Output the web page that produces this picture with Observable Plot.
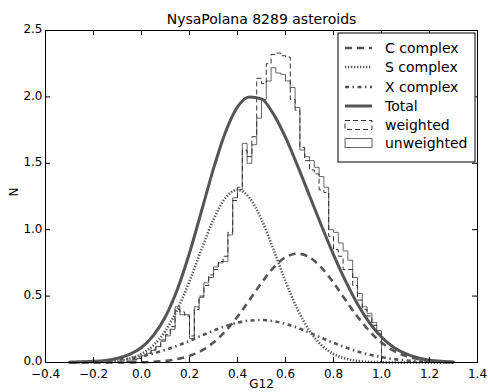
<!DOCTYPE html>
<html>
<head>
<meta charset="utf-8">
<script src="https://cdn.jsdelivr.net/npm/d3@7"></script>
<script src="https://cdn.jsdelivr.net/npm/@observablehq/plot@0.6"></script>
<style>
  html, body { margin: 0; padding: 0; background: #fff; }
  #chart { width: 488px; height: 392px; }
</style>
</head>
<body>
<div id="chart"></div>
<script>
// ---- Data ----
const title = "NysaPolana 8289 asteroids";
const xLabel = "G12";
const yLabel = "N";
const xTicks = [-0.4, -0.2, 0.0, 0.2, 0.4, 0.6, 0.8, 1.0, 1.2, 1.4];
const yTicks = [0.0, 0.5, 1.0, 1.5, 2.0, 2.5];

// histogram bin edges (G12)
const binEdges = [-0.06,-0.04,-0.02,0.00,0.02,0.04,0.06,0.08,0.10,0.12,0.14,0.16,0.18,0.20,0.22,0.24,0.26,0.28,0.30,0.32,0.34,0.36,0.38,0.40,0.42,0.44,0.46,0.48,0.50,0.52,0.54,0.56,0.58,0.60,0.62,0.64,0.66,0.68,0.70,0.72,0.74,0.76,0.78,0.80,0.82,0.84,0.86,0.88,0.90,0.92,0.94,0.96,0.98,1.00];
const unweighted = [0.01,0.02,0.03,0.05,0.07,0.09,0.12,0.16,0.20,0.25,0.42,0.36,0.36,0.18,0.42,0.49,0.60,0.64,0.72,0.75,0.76,0.96,1.24,1.30,1.65,1.50,1.64,1.84,1.98,2.12,2.22,2.18,2.17,2.12,2.07,1.92,1.60,1.55,1.52,1.47,1.40,1.32,1.00,0.98,0.90,0.84,0.77,0.64,0.52,0.42,0.37,0.30,0.24];
const weighted   = [0.01,0.02,0.03,0.05,0.07,0.10,0.12,0.17,0.21,0.27,0.40,0.38,0.35,0.20,0.40,0.50,0.58,0.66,0.70,0.76,0.80,0.98,1.22,1.32,1.60,1.55,1.70,2.14,2.10,2.25,2.32,2.33,2.31,2.30,1.98,1.90,1.62,1.52,1.45,1.42,1.30,1.28,0.95,0.85,0.80,0.70,0.70,0.58,0.47,0.40,0.35,0.28,0.22];

// model curves
const curveX = [-0.30,-0.25,-0.20,-0.15,-0.10,-0.05,0.00,0.05,0.10,0.15,0.20,0.25,0.30,0.35,0.40,0.45,0.50,0.55,0.60,0.65,0.70,0.75,0.80,0.85,0.90,0.95,1.00,1.05,1.10,1.15,1.20,1.25,1.30];
const cComplex = [0,0,0,0,0,0.001,0.002,0.006,0.012,0.026,0.050,0.089,0.150,0.236,0.345,0.471,0.600,0.714,0.792,0.820,0.792,0.714,0.600,0.471,0.345,0.236,0.150,0.089,0.050,0.026,0.012,0.006,0.002];
const sComplex = [0,0,0.002,0.004,0.012,0.029,0.064,0.130,0.239,0.401,0.612,0.851,1.077,1.240,1.300,1.240,1.077,0.851,0.612,0.401,0.239,0.130,0.064,0.029,0.012,0.004,0.002,0,0,0,0,0,0];
const xComplex = [0.002,0.004,0.007,0.012,0.020,0.031,0.047,0.068,0.095,0.127,0.163,0.202,0.240,0.274,0.300,0.316,0.320,0.311,0.291,0.261,0.225,0.186,0.148,0.114,0.083,0.059,0.040,0.026,0.016,0.010,0.006,0.003,0.002];
const total    = [0.002,0.005,0.009,0.016,0.032,0.061,0.113,0.204,0.346,0.554,0.825,1.140,1.460,1.735,1.925,2.000,1.985,1.870,1.695,1.482,1.256,1.030,0.812,0.614,0.440,0.299,0.192,0.115,0.066,0.036,0.018,0.009,0.004];

const legendLabels = ["C complex", "S complex", "X complex", "Total", "weighted", "unweighted"];

// ---- build tables ----
function stepPoints(edges, vals) {
  const pts = [{x: edges[0], y: 0}];
  vals.forEach((v, i) => pts.push({x: edges[i], y: v}));
  pts.push({x: edges[edges.length - 1], y: vals[vals.length - 1]});
  pts.push({x: edges[edges.length - 1], y: 0});
  return pts;
}
const curve = ys => curveX.map((x, i) => ({x, y: ys[i]}));

const W = 488, H = 392;
const mt = 30, mr = 11, mb = 30, ml = 45;
const innerH = H - mt - mb, innerW = W - ml - mr;
const grey = "#555";
const fmt = d3.format(".1f");
const dashC = "7,5", dashS = "1.3,1.7", dashX = "4,3.5,1.5,3.5";

const chart = Plot.plot({
  width: W, height: H,
  marginTop: mt, marginRight: mr, marginBottom: mb, marginLeft: ml,
  style: {fontFamily: "DejaVu Sans", fontSize: "12px", background: "#fff", color: "#000"},
  x: {domain: [-0.4, 1.4]},
  y: {domain: [0, 2.5]},
  marks: [
    Plot.line(stepPoints(binEdges, unweighted), {x: "x", y: "y", curve: "step-after", stroke: "#666", strokeWidth: 1, strokeLinecap: "butt", strokeLinejoin: "miter"}),
    Plot.line(stepPoints(binEdges, weighted), {x: "x", y: "y", curve: "step-after", stroke: "#333", strokeWidth: 1, strokeDasharray: "5,3", strokeLinecap: "butt", strokeLinejoin: "miter"}),
    Plot.line(curve(cComplex), {x: "x", y: "y", curve: "monotone-x", stroke: grey, strokeWidth: 2.6, strokeDasharray: dashC, strokeLinecap: "butt"}),
    Plot.line(curve(sComplex), {x: "x", y: "y", curve: "monotone-x", stroke: grey, strokeWidth: 2.6, strokeDasharray: dashS, strokeLinecap: "butt"}),
    Plot.line(curve(xComplex), {x: "x", y: "y", curve: "monotone-x", stroke: grey, strokeWidth: 2.6, strokeDasharray: dashX, strokeLinecap: "butt"}),
    Plot.line(curve(total), {x: "x", y: "y", curve: "monotone-x", stroke: grey, strokeWidth: 3}),
    // inward ticks on all four sides
    Plot.tickX(xTicks, {x: d => d, insetTop: innerH - 5, stroke: "#000"}),
    Plot.tickX(xTicks, {x: d => d, insetBottom: innerH - 5, stroke: "#000"}),
    Plot.tickY(yTicks, {y: d => d, insetRight: innerW - 5, stroke: "#000"}),
    Plot.tickY(yTicks, {y: d => d, insetLeft: innerW - 5, stroke: "#000"}),
    Plot.axisX(xTicks, {anchor: "bottom", tickSize: 0, tickPadding: 7, tickFormat: fmt, fontSize: 12, label: null}),
    Plot.axisY(yTicks, {anchor: "left", tickSize: 0, tickPadding: 3, dy: -1, tickFormat: fmt, fontSize: 12, label: null}),
    Plot.frame({stroke: "#000", strokeWidth: 1}),
    Plot.text([title], {frameAnchor: "top", dy: -16, fontSize: 14, text: d => d}),
    Plot.text([xLabel], {frameAnchor: "bottom", dy: 25, fontSize: 12, text: d => d}),
    Plot.text([yLabel], {frameAnchor: "left", dx: -31, rotate: -90, fontSize: 12, text: d => d})
  ]
});

document.getElementById("chart").appendChild(chart);

// ---- legend (upper right, inside the frame) ----
const svg = d3.select(chart);
const lg = svg.append("g").attr("font-family", "DejaVu Sans").attr("font-size", 14).attr("text-anchor", "start");
const bx = 338, by = 33, bw = 137, bh = 129;
lg.append("rect").attr("x", bx).attr("y", by).attr("width", bw).attr("height", bh)
  .attr("fill", "#fff").attr("stroke", "#000").attr("stroke-width", 1);
const rowY = [48, 67, 87, 106, 125, 143];
const styles = [
  {type: "line", dash: dashC, w: 2.6},
  {type: "line", dash: dashS, w: 2.6},
  {type: "line", dash: dashX, w: 2.6},
  {type: "line", dash: null, w: 3},
  {type: "rect", dash: "5,3", stroke: "#333"},
  {type: "rect", dash: null, stroke: "#666"}
];
legendLabels.forEach((lab, i) => {
  const s = styles[i], y = rowY[i];
  if (s.type === "line") {
    const l = lg.append("line").attr("x1", 345).attr("x2", 372).attr("y1", y).attr("y2", y)
      .attr("stroke", grey).attr("stroke-width", s.w).attr("stroke-linecap", "butt");
    if (s.dash) l.attr("stroke-dasharray", s.dash);
  } else {
    const r = lg.append("rect").attr("x", 345).attr("y", y - 4.5).attr("width", 27).attr("height", 9)
      .attr("fill", "none").attr("stroke", s.stroke).attr("stroke-width", 1);
    if (s.dash) r.attr("stroke-dasharray", s.dash);
  }
  lg.append("text").attr("x", 385).attr("y", y).attr("dy", "0.35em").attr("fill", "#000").text(lab);
});
</script>
</body>
</html>
